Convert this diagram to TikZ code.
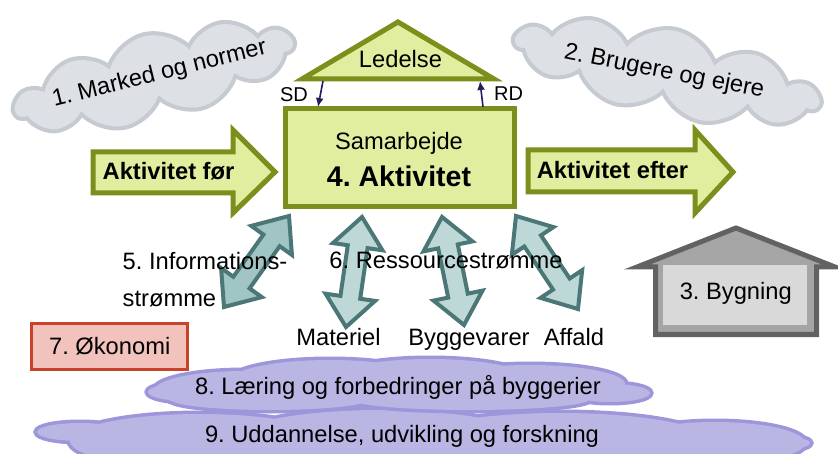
\documentclass[tikz,border=0pt]{standalone}
\usepackage{fontspec}
\setmainfont{Liberation Sans}
\usetikzlibrary{shapes.symbols,arrows.meta,calc}
\AtBeginDocument{\frenchspacing}
\definecolor{cloudgray}{HTML}{DDE0E5}
\definecolor{cloudgrayline}{HTML}{C6CAD1}
\definecolor{lgreen}{HTML}{E2EE9F}
\definecolor{oliveB}{HTML}{7B8F1C}
\definecolor{tealline}{HTML}{4B7877}
\definecolor{tealfill}{HTML}{BED8D8}
\definecolor{tealdark}{HTML}{A1C5C5}
\definecolor{navyB}{HTML}{221C5E}
\definecolor{housefill}{HTML}{A5A5A5}
\definecolor{houseline}{HTML}{626262}
\definecolor{houseinner}{HTML}{D9D9D9}
\definecolor{pinkfill}{HTML}{F2C2BC}
\definecolor{redline}{HTML}{C9432A}
\definecolor{purpfill}{HTML}{B9B6E3}
\definecolor{purpline}{HTML}{9D96DA}
\newcommand\ahl{30pt}
\newcommand\ahw{25pt}
\newcommand\asw{10pt}
\newcommand\dblarrow[3]{%
  \draw[#3] (#1)
   -- ($(#1)!\ahl!(#2)!\ahw!90:(#2)$)
   -- ($(#1)!\ahl!(#2)!\asw!90:(#2)$)
   -- ($(#2)!\ahl!(#1)!\asw!-90:(#1)$)
   -- ($(#2)!\ahl!(#1)!\ahw!-90:(#1)$)
   -- (#2)
   -- ($(#2)!\ahl!(#1)!\ahw!90:(#1)$)
   -- ($(#2)!\ahl!(#1)!\asw!90:(#1)$)
   -- ($(#1)!\ahl!(#2)!\asw!-90:(#2)$)
   -- ($(#1)!\ahl!(#2)!\ahw!-90:(#2)$)
   -- cycle;}
\newcommand\elli[4]{(#1,#2) ellipse [x radius=#3pt, y radius=#4pt]}
\newcommand\cloudnine{\elli{80}{432}{43}{9} \elli{200}{441}{130}{27} \elli{380}{441}{150}{31}
  \elli{560}{441}{150}{28} \elli{715}{443}{90}{21} \elli{778}{443}{32}{7}}
\newcommand\cloudeight{\elli{188}{392}{40}{9} \elli{245}{390}{90}{19} \elli{330}{381}{100}{21}
  \elli{430}{380}{100}{21} \elli{530}{384}{95}{19} \elli{610}{393}{40}{9}
  \elli{270}{399}{100}{11} \elli{470}{399}{120}{11}}
\begin{document}
\begin{tikzpicture}[x=1pt,y=-1pt,
  txt/.style={font=\fontsize{23.7}{28}\selectfont, inner sep=0pt, anchor=base},
  boldtxt/.style={font=\fontsize{23.7}{28}\selectfont\bfseries, inner sep=0pt, anchor=base},
  smalltxt/.style={font=\fontsize{20}{24}\selectfont, inner sep=0pt, anchor=base},
  graycloud/.style={cloud, cloud puffs=11, cloud puff arc=115, cloud ignores aspect, draw=cloudgrayline, fill=cloudgray, line width=4pt, inner sep=0pt},
  purpedge/.style={draw=purpline, fill=purpline, line width=7pt},
  purpbody/.style={fill=purpfill},
  greenshape/.style={draw=oliveB, fill=lgreen, line width=5pt, line join=miter},
  flowarrow/.style={draw=tealline, fill=tealfill, line width=4pt, line join=miter},
  infoarrow/.style={flowarrow, fill=tealdark},
  sdarrow/.style={draw=navyB, line width=1.6pt, -{Latex[length=9pt,width=8pt]}},
]
\useasboundingbox (0,0) rectangle (838,454);
\clip (0,0) rectangle (838,454);

% top clouds
\node[graycloud, rotate=14, minimum width=288pt, minimum height=88pt] (cloud1) at (154,77) {};
\node[txt, rotate=14] (t1) at (161,80) {1. Marked og normer};
\node[graycloud, rotate=-12, minimum width=312pt, minimum height=88pt] (cloud2) at (667,72) {};
\node[txt, rotate=-11] (t2) at (663,78) {2. Brugere og ejere};

% management triangle
\coordinate (tl) at (302,79);
\coordinate (tt) at (398,22);
\coordinate (tr) at (494,79);
\draw[greenshape] (tl) -- (tt) -- (tr) -- cycle;
\node[txt] (led) at (400.5,68) {Ledelse};

% activity box
\node[greenshape, rectangle, minimum width=229pt, minimum height=98pt, inner sep=0pt] (act) at (399.5,158) {};
\node[txt] (sam) at (399,150) {Samarbejde};
\node[font=\fontsize{28.5}{32}\selectfont\bfseries, inner sep=0pt, anchor=base] (akt) at (399,187) {4. Aktivitet};

% SD / RD
\coordinate (sd1) at (323,81);
\coordinate (sd2) at (318,107);
\coordinate (rd1) at (483,107);
\coordinate (rd2) at (480,81);
\draw[sdarrow] (sd1) -- (sd2);
\draw[sdarrow] (rd1) -- (rd2);
\node[smalltxt] (sd) at (294,102) {SD};
\node[smalltxt] (rd) at (508.5,101) {RD};

% before / after arrows
\draw[greenshape] (93,152) -- (233,152) -- (233,130) -- (275,172) -- (233,213) -- (233,193) -- (93,193) -- cycle;
\node[boldtxt] (before) at (168.5,180) {Aktivitet før};
\draw[greenshape] (528,150) -- (695,150) -- (695,130) -- (733,172) -- (695,213) -- (695,192) -- (528,192) -- cycle;
\node[boldtxt] (after) at (612.5,179) {Aktivitet efter};

% building
\draw[draw=houseline, fill=housefill, line width=5pt, line join=miter]
  (655.5,334.5) -- (655.5,267) -- (637,267) -- (736,228) -- (835,267) -- (816.5,267) -- (816.5,334.5) -- cycle;
\fill[houseinner] (663,265) rectangle (807,325);
\node[txt] (byg) at (735.8,300) {3. Bygning};

% flow arrows
\coordinate (ia1) at (224,307);
\coordinate (ia2) at (289,216);
\coordinate (ma1) at (346,327);
\coordinate (ma2) at (362,217);
\coordinate (ba1) at (464,325);
\coordinate (ba2) at (442,217);
\coordinate (aa1) at (578,309);
\coordinate (aa2) at (516,216);
\dblarrow{ia1}{ia2}{infoarrow}
\dblarrow{ma1}{ma2}{flowarrow}
\dblarrow{ba1}{ba2}{flowarrow}
\dblarrow{aa1}{aa2}{flowarrow}

\node[txt, anchor=base west] (inf1) at (122.5,270) {5. Informations-};
\node[txt, anchor=base west] (inf2) at (122.5,307) {strømme};
\node[txt] (res) at (446,269) {6. Ressourcestrømme};
\node[txt] (mat) at (338.5,345) {Materiel};
\node[txt] (bv) at (469,345) {Byggevarer};
\node[txt] (aff) at (574,345) {Affald};

% economy
\node[draw=redline, fill=pinkfill, line width=3pt, rectangle, minimum width=156pt, minimum height=46pt, inner sep=0pt] (oko) at (109.5,346.5) {};
\node[txt] (okot) at (109.7,355) {7. Økonomi};

% bottom clouds
\path[purpedge] \cloudnine;
\path[purpbody] \cloudnine;
\path[purpedge] \cloudeight;
\path[purpbody] \cloudeight;
\node[txt] (t8) at (398,394) {8. Læring og forbedringer på byggerier};
\node[txt] (t9) at (402,442.5) {9. Uddannelse, udvikling og forskning};
\end{tikzpicture}
\end{document}
